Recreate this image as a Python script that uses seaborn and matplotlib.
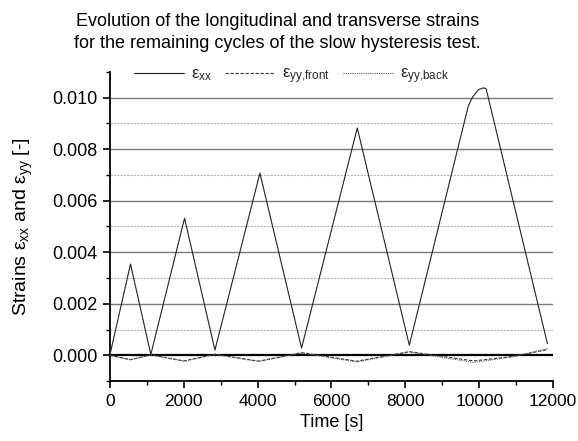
import numpy as np
import pandas as pd
import matplotlib
matplotlib.use("Agg")
import matplotlib.pyplot as plt
from matplotlib.ticker import MultipleLocator, FormatStrFormatter
import seaborn as sns

# Longitudinal strain (extensometer), time in seconds
t_xx = [0, 560, 1110, 2023, 2845, 4063, 5190, 6698, 8107,
        9700, 9800, 9975, 10110, 10185, 11845]
eps_xx = [0.0, 0.00354, 0.00003, 0.00532, 0.00020, 0.00707, 0.00028,
          0.00882, 0.00039, 0.00966, 0.00998, 0.01031, 0.01038, 0.01035,
          0.00045]

# Transverse strains, front and back gauges
t_yy = [0, 560, 1110, 2005, 2845, 4030, 5190, 6690, 8107, 9850, 10900, 11850]
eps_yy_front = [0.0, -0.00017, 0.00002, -0.00022, 0.00004, -0.00023, 0.00010,
                -0.00023, 0.00014, -0.00022, -0.00005, 0.00022]
eps_yy_back = [0.0, -0.00018, 0.00001, -0.00023, 0.00003, -0.00024, 0.00009,
               -0.00026, 0.00013, -0.00028, -0.00006, 0.00026]

labels = ["ε$_{\\mathregular{xx}}$",
          "ε$_{\\mathregular{yy{,}front}}$",
          "ε$_{\\mathregular{yy{,}back}}$"]

sns.set_theme(style="ticks")
plt.rcParams["font.family"] = ["Liberation Sans", "DejaVu Sans"]
plt.rcParams["mathtext.fontset"] = "custom"
plt.rcParams["mathtext.rm"] = "Liberation Sans"
plt.rcParams["mathtext.it"] = "Liberation Sans"

fig = plt.figure(figsize=(5.78, 4.41), dpi=100)
ax = fig.add_axes([0.190, 0.136, 0.767, 0.701])

df_xx = pd.DataFrame({"t": t_xx, "e": eps_xx})
df_f = pd.DataFrame({"t": t_yy, "e": eps_yy_front})
df_b = pd.DataFrame({"t": t_yy, "e": eps_yy_back})

# horizontal reference lines: solid at major levels, dotted at minor levels
for y in np.arange(0.002, 0.0105, 0.002):
    ax.axhline(y, color="#7a7a7a", lw=1.0, ls="-", zorder=0)
for y in np.arange(0.001, 0.0095, 0.002):
    ax.axhline(y, color="#b5b5b5", lw=0.8, ls=(0, (2, 1)), zorder=0)
ax.axhline(0, color="black", lw=1.6, zorder=1)

sns.lineplot(data=df_xx, x="t", y="e", ax=ax, color="#222222", lw=0.8,
             linestyle="-", label=labels[0], sort=False, zorder=3)
sns.lineplot(data=df_f, x="t", y="e", ax=ax, color="#333333", lw=0.8,
             linestyle=(0, (3, 1.5)), label=labels[1], sort=False, zorder=3)
sns.lineplot(data=df_b, x="t", y="e", ax=ax, color="#555555", lw=0.8,
             linestyle=(0, (1, 1)), label=labels[2], sort=False, zorder=3)

ax.set_xlim(0, 12000)
ax.set_ylim(-0.001, 0.011)
ax.xaxis.set_major_locator(MultipleLocator(2000))
ax.xaxis.set_minor_locator(MultipleLocator(1000))
ax.yaxis.set_major_locator(MultipleLocator(0.002))
ax.yaxis.set_minor_locator(MultipleLocator(0.001))
ax.yaxis.set_major_formatter(FormatStrFormatter("%.3f"))

for s in ["top", "right"]:
    ax.spines[s].set_visible(False)
for s in ["left", "bottom"]:
    ax.spines[s].set_color("black")
    ax.spines[s].set_linewidth(1.3)

ax.tick_params(which="major", direction="out", length=5, width=1.2,
               color="black", labelcolor="black", pad=4)
ax.tick_params(axis="y", which="major", labelsize=13)
ax.tick_params(axis="x", which="major", labelsize=12.5)
ax.tick_params(which="minor", direction="out", length=3, width=1.0,
               color="black")

ax.set_xlabel("Time [s]", fontsize=13, color="black", labelpad=4)
ax.set_ylabel("Strains ε$_{\\mathregular{xx}}$ and ε$_{\\mathregular{yy}}$ [-]",
              fontsize=14, color="black", labelpad=12)

ax.legend(loc="center left", bbox_to_anchor=(0.04, 0.985), ncol=3,
          frameon=False, fontsize=12, handlelength=3.0, handletextpad=0.4,
          columnspacing=0.8, borderaxespad=0)

fig.text(0.48, 0.97,
         "Evolution of the longitudinal and transverse strains\n"
         "for the remaining cycles of the slow hysteresis test.",
         ha="center", va="top", fontsize=13, color="black", linespacing=1.4)

fig.savefig("out.png", dpi=100)
